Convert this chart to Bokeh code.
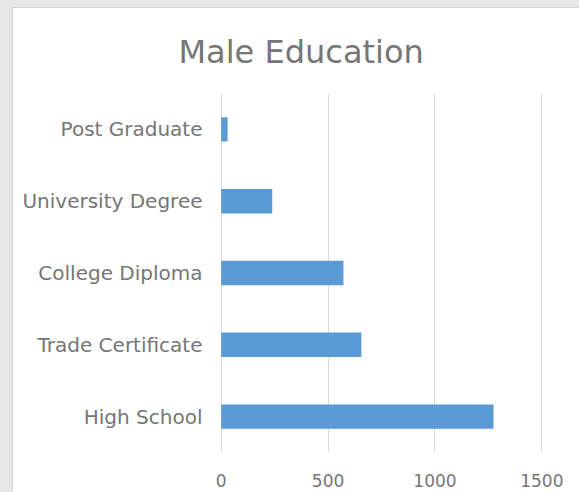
from bokeh.plotting import figure
from bokeh.models import Range1d, FactorRange, Title, FixedTicker, ColumnDataSource
from bokeh.embed import file_html
from bokeh.resources import INLINE

categories = ["Post Graduate", "University Degree", "College Diploma", "Trade Certificate", "High School"]
counts = [30, 239, 572, 656, 1274]
x_ticks = [0, 500, 1000, 1500]

FONT = "DejaVu Sans"
TEXT = "#767676"

factors = list(reversed(categories))
src = ColumnDataSource(dict(cat=categories, val=counts))

p = figure(width=566, height=484, y_range=FactorRange(factors=factors),
           x_range=Range1d(-3, 1503), output_backend="svg", toolbar_location=None,
           min_border_left=207, min_border_right=37, min_border_top=84, min_border_bottom=40)
p.margin = (8, 0, 0, 13)
p.styles = {"box-shadow": "-1px -1px 0 #d4d4d4", "background-color": "white"}
p.background_fill_color = None
p.border_fill_color = None
p.outline_line_color = None

p.hbar(y="cat", right="val", left=0, height=0.34, source=src,
       fill_color="#5b9bd5", line_color=None)

p.xgrid.ticker = FixedTicker(ticks=x_ticks)
p.xgrid.grid_line_color = "#d9d9d9"
p.xgrid.grid_line_width = 1
p.ygrid.grid_line_color = None

p.xaxis.ticker = FixedTicker(ticks=x_ticks)
for ax in (p.xaxis, p.yaxis):
    ax.axis_line_color = None
    ax.major_tick_line_color = None
    ax.minor_tick_line_color = None
    ax.major_tick_out = 0
    ax.major_tick_in = 0
    ax.major_label_text_font = FONT
    ax.major_label_text_color = TEXT
p.xaxis.major_label_text_font_size = "17px"
p.yaxis.major_label_text_font_size = "20px"
p.xaxis.major_label_standoff = 21
p.yaxis.major_label_standoff = 18

p.add_layout(Title(text="Male Education", align="left", offset=-42, standoff=45,
                   text_font=FONT, text_font_size="32px", text_font_style="normal",
                   text_color=TEXT), "above")

html = file_html(p, INLINE)
html = html.replace("</head>", "<style>html, body { background:#e8e8e8 !important; overflow:hidden; }</style></head>", 1)
open("out.html", "w").write(html)
